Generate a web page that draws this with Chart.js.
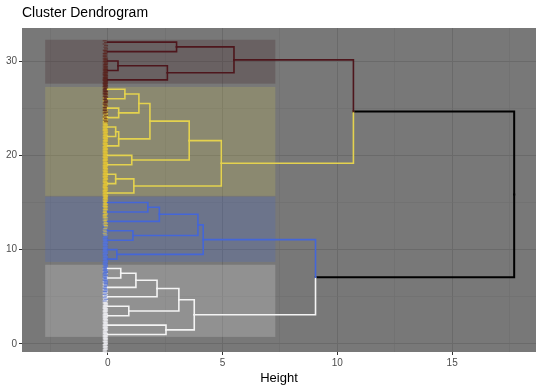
<!DOCTYPE html>
<html><head><meta charset="utf-8">
<script src="https://cdn.jsdelivr.net/npm/chart.js@4/dist/chart.umd.min.js"></script>
<style>html,body{margin:0;padding:0;background:#fff}#wrap{width:540px;height:386px}</style>
</head><body><div id="wrap"><canvas id="c" width="540" height="386"></canvas></div>
<script>
// ---- data (hclust-style merges; negative = leaf index, positive = earlier merge) ----
const leafCluster = [4,4,4,4,4,4,4,4, 3,3,3,3,3,3,3, 2,2,2,2,2,2,2,2,2,2,2,2, 1,1,1,1,1];
const mergeA = [-30, 1, -32, 3, -27, -25, 5, -23, 8, 7, -20, 10, -18, 13, 12, 4, -15, 17, -12, 18, -10, 20, -8, 23, 24, -4, 25, -2, 27, 22, 16];
const mergeB = [-29, -28, -31, 2, -26, -24, 6, -22, -21, 9, -19, 11, -17, -16, 14, 15, -14, -13, -11, 19, -9, 21, -7, -6, -5, -3, 26, -1, 28, 29, 30];
const mergeH = [0.45, 2.6, 3.0, 5.5, 0.75, 0.48, 1.36, 0.35, 0.48, 1.84, 1.05, 3.55, 0.35, 1.14, 4.95, 10.7, 1.75, 2.25, 1.1, 3.93, 0.4, 4.16, 0.57, 1.23, 2.15, 0.92, 3.1, 2.54, 3.77, 9.05, 17.7];
const clusterLine = {1:'#4e161c', 2:'#e4d24e', 3:'#4466d8', 4:'#f4f4f4'};
const clusterFill = {1:'rgba(70,40,42,0.28)', 2:'rgba(225,210,80,0.19)', 3:'rgba(70,105,210,0.22)', 4:'rgba(255,255,255,0.19)'};
const clusterLabel = {1:'rgba(90,35,30,0.7)', 2:'rgba(225,195,55,0.7)', 3:'rgba(85,115,215,0.7)', 4:'rgba(235,235,240,0.7)'};
const rectIds = [1, 2, 3, 4];
const rectTop = [32.25, 27.25, 15.6, 8.4];
const rectBottom = [27.6, 15.7, 8.7, 0.75];
const rectLeft = -2.72, rectRight = 7.3;
const xTicks = [-2.5, 0, 2.5, 5, 7.5, 10, 12.5, 15, 17.5];
const yTicks = [0, 5, 10, 15, 20, 25, 30];

// ---- build tree segments ----
const nodes = [];
function info(id){
  if (id < 0) { const i = -id; return {y:i, h:0, cl:new Set([leafCluster[i-1]])}; }
  return nodes[id-1];
}
for (let k=0;k<mergeA.length;k++){
  const a = info(mergeA[k]), b = info(mergeB[k]);
  nodes.push({y:(a.y+b.y)/2, h:mergeH[k], cl:new Set([...a.cl, ...b.cl])});
}
const colored = [], black = [];
for (let k=0;k<mergeA.length;k++){
  const p = nodes[k];
  [mergeA[k], mergeB[k]].forEach(c=>{
    const ch = info(c);
    const col = ch.cl.size===1 ? clusterLine[[...ch.cl][0]] : '#000000';
    const ds = {data:[{x:ch.h,y:ch.y},{x:p.h,y:ch.y},{x:p.h,y:p.y}], showLine:true, borderColor:col,
      borderWidth: col==='#000000'?2:1.6, pointRadius:0, fill:false, tension:0, borderJoinStyle:'miter', borderCapStyle:'square'};
    (col==='#000000'?black:colored).push(ds);
  });
}

const deco = {
  id:'deco',
  beforeDraw(chart){
    const {ctx, chartArea:a} = chart;
    ctx.save();
    ctx.fillStyle='#ffffff'; ctx.fillRect(0,0,chart.width,chart.height);
    ctx.fillStyle='#787878'; ctx.fillRect(a.left,a.top,a.right-a.left,a.bottom-a.top);
    ctx.fillStyle='#000'; ctx.font='14px "Liberation Sans", Arial, sans-serif'; ctx.textBaseline='alphabetic';
    ctx.fillText('Cluster Dendrogram', 22, 17);
    ctx.restore();
  },
  beforeDatasetsDraw(chart){
    const {ctx, scales:{x,y}} = chart;
    ctx.save();
    rectIds.forEach((id,i)=>{
      ctx.fillStyle = clusterFill[id];
      const l=x.getPixelForValue(rectLeft), r=x.getPixelForValue(rectRight);
      const t=y.getPixelForValue(rectTop[i]), b=y.getPixelForValue(rectBottom[i]);
      ctx.fillRect(l,t,r-l,b-t);
    });
    // leaf label column
    const x0 = x.getPixelForValue(0);
    for (let i=1;i<=leafCluster.length;i++){
      ctx.fillStyle = clusterLabel[leafCluster[i-1]];
      const t=y.getPixelForValue(i+0.2), b=Math.min(y.getPixelForValue(i-4.5), chart.chartArea.bottom);
      for (let yy=t; yy<b; yy+=1.6){ ctx.fillRect(x0-5+((i+Math.round(yy))%3)*0.7, yy, 4, 1.1); }
    }
    ctx.restore();
  }
};

new Chart(document.getElementById('c'), {
  type:'scatter',
  data:{datasets:[...colored, ...black]},
  options:{
    responsive:false, animation:false, devicePixelRatio:1,
    layout:{padding:{top:28,right:4,left:0,bottom:0}},
    plugins:{legend:{display:false}, tooltip:{enabled:false}, title:{display:false}},
    scales:{
      x:{type:'linear', min:-3.73, max:18.65,
        afterBuildTicks(s){ s.ticks = xTicks.map(v=>({value:v})); },
        afterFit(s){ s.height = 34; },
        ticks:{color:'#4d4d4d', font:{size:10, family:'"Liberation Sans", Arial, sans-serif'}, padding:2, maxRotation:0, autoSkip:false,
          callback:(v)=> (v%5===0 ? String(v) : '')},
        grid:{color:(c)=> (c.tick && c.tick.value%5===0 ? '#6a6a6a' : '#6e6e6e'), lineWidth:(c)=> (c.tick && c.tick.value%5===0 ? 1 : 0.6),
          tickLength:3, tickColor:(c)=> (c.tick && c.tick.value%5===0 ? '#333' : 'rgba(0,0,0,0)')},
        border:{display:false},
        title:{display:true, text:'Height', color:'#000', font:{size:13, family:'"Liberation Sans", Arial, sans-serif'}, padding:{top:0,bottom:0}}
      },
      y:{type:'linear', min:-0.85, max:33.5,
        afterBuildTicks(s){ s.ticks = yTicks.map(v=>({value:v})); },
        afterFit(s){ s.width = 22; },
        ticks:{color:'#4d4d4d', font:{size:10, family:'"Liberation Sans", Arial, sans-serif'}, padding:2,
          callback:(v)=> (v%10===0 ? String(v) : '')},
        grid:{color:(c)=> (c.tick && c.tick.value%10===0 ? '#6a6a6a' : '#6e6e6e'), lineWidth:(c)=> (c.tick && c.tick.value%10===0 ? 1 : 0.6),
          tickLength:3, tickColor:(c)=> (c.tick && c.tick.value%10===0 ? '#333' : 'rgba(0,0,0,0)')},
        border:{display:false}
      }
    }
  },
  plugins:[deco]
});
</script></body></html>
